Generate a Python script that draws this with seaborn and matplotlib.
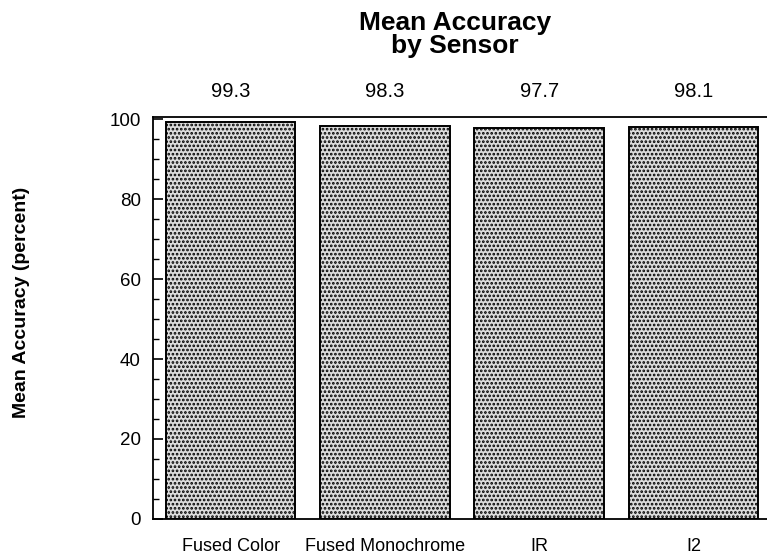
import matplotlib
matplotlib.use("Agg")
import matplotlib.pyplot as plt
from matplotlib.ticker import MultipleLocator
import seaborn as sns
import pandas as pd

sensors = ["Fused Color", "Fused Monochrome", "IR", "I2"]
accuracy = [99.3, 98.3, 97.7, 98.1]
y_ticks = [0, 20, 40, 60, 80, 100]

df = pd.DataFrame({"Sensor": sensors, "Accuracy": accuracy})

sns.set_theme(style="white")
plt.rcParams["font.family"] = ["Liberation Sans", "DejaVu Sans"]
plt.rcParams["text.color"] = "black"
plt.rcParams["axes.labelcolor"] = "black"
plt.rcParams["xtick.color"] = "black"
plt.rcParams["ytick.color"] = "black"
plt.rcParams["hatch.linewidth"] = 1.3
plt.rcParams["hatch.color"] = "#3a3a3a"

fig = plt.figure(figsize=(7.67, 5.58), dpi=100)
ax = fig.add_axes([0.2, 0.07, 0.805, 0.72])

sns.barplot(data=df, x="Sensor", y="Accuracy", ax=ax, color="#dcdcdc",
            width=0.84, edgecolor="black", linewidth=1.4, saturation=1)
for patch in ax.patches:
    patch.set_hatch("....")

ax.set_ylim(0, 100.5)
ax.set_xlim(-0.5, 3.5)
ax.set_yticks(y_ticks)
ax.yaxis.set_minor_locator(MultipleLocator(5))
ax.tick_params(axis="y", which="major", direction="in", length=7, width=1.2,
               labelsize=13.5, left=True, pad=9)
ax.tick_params(axis="y", which="minor", direction="in", length=4, width=1,
               left=True)
ax.tick_params(axis="x", length=0, labelsize=13, pad=14)
for side in ["left", "top", "bottom"]:
    ax.spines[side].set_visible(True)
    ax.spines[side].set_color("black")
    ax.spines[side].set_linewidth(1.3)
ax.spines["right"].set_visible(False)

ax.set_xlabel("")
ax.set_ylabel("Mean Accuracy (percent)", fontsize=14, fontweight="bold")
ax.yaxis.set_label_coords(-0.2, 0.54)

# value labels above the frame
for i, v in enumerate(accuracy):
    ax.text(i, 104.5, f"{v:.1f}", ha="center", va="bottom", fontsize=14.5)

fig.text(0.593, 0.938, "Mean Accuracy\nby Sensor", ha="center", va="center",
         fontsize=19, fontweight="bold", linespacing=0.95)

fig.savefig("out.png", dpi=100)
